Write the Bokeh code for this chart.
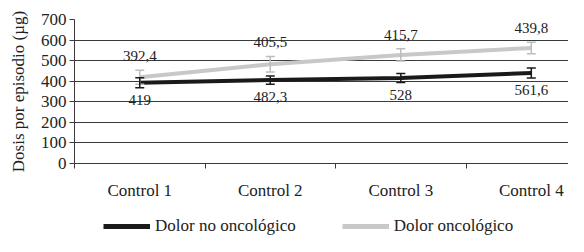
from bokeh.plotting import figure
from bokeh.layouts import column
from bokeh.models import (ColumnDataSource, FixedTicker, Whisker, TeeHead, Legend, LegendItem, Range1d)
from bokeh.core.properties import value
from bokeh.embed import file_html
from bokeh.resources import INLINE

categories = ["Control 1", "Control 2", "Control 3", "Control 4"]
no_onco = [392.4, 405.5, 415.7, 439.8]
onco = [419.0, 482.3, 528.0, 561.6]
no_onco_err = [24, 20, 22, 24]
onco_err = [34, 38, 30, 28]
y_ticks = [0, 100, 200, 300, 400, 500, 600, 700]
series_names = ["Dolor no oncológico", "Dolor oncológico"]

FONT = "Liberation Serif"
BLACK = "#1a1a1a"
GRAY = "#c8c8c8"
TXT = "#222222"
AX = "#3a3a3a"

def fmt(v):
    return ("%g" % v).replace(".", ",")

x = list(range(1, len(categories) + 1))

p = figure(width=568, height=212, output_backend="svg", toolbar_location=None,
           x_range=Range1d(0.5, 4.285), y_range=Range1d(0, 700),
           min_border_left=74, min_border_right=0, min_border_top=19, min_border_bottom=49)
p.outline_line_color = None

src_o = ColumnDataSource(dict(x=x, y=onco, lo=[a - b for a, b in zip(onco, onco_err)],
                              hi=[a + b for a, b in zip(onco, onco_err)],
                              lab=[fmt(v) for v in no_onco]))
src_n = ColumnDataSource(dict(x=x, y=no_onco, lo=[a - b for a, b in zip(no_onco, no_onco_err)],
                              hi=[a + b for a, b in zip(no_onco, no_onco_err)],
                              lab=[fmt(v) for v in onco]))

# gray series
p.line("x", "y", source=src_o, line_color=GRAY, line_width=4)
p.add_layout(Whisker(base="x", lower="lo", upper="hi", source=src_o, line_color="#bdbdbd", line_width=1.5,
                     upper_head=TeeHead(size=9, line_color="#bdbdbd", line_width=1.5),
                     lower_head=TeeHead(size=9, line_color="#bdbdbd", line_width=1.5), level="glyph"))
# black series
p.line("x", "y", source=src_n, line_color=BLACK, line_width=4)
p.add_layout(Whisker(base="x", lower="lo", upper="hi", source=src_n, line_color=BLACK, line_width=1.5,
                     upper_head=TeeHead(size=9, line_color=BLACK, line_width=1.5),
                     lower_head=TeeHead(size=9, line_color=BLACK, line_width=1.5), level="glyph"))

# data labels (as printed in the original)
p.text("x", "hi", text="lab", source=src_o, text_font=value(FONT), text_font_size="15px",
       text_color=TXT, text_align="center", text_baseline="middle", y_offset=-14)
p.text("x", "y", text="lab", source=src_n, text_font=value(FONT), text_font_size="15px",
       text_color=TXT, text_align="center", text_baseline="middle", y_offset=17)

# grid
p.xgrid.visible = False
p.ygrid.ticker = FixedTicker(ticks=y_ticks)
p.ygrid.grid_line_color = AX
p.ygrid.grid_line_width = 1

# y axis
ya = p.yaxis[0]
ya.ticker = FixedTicker(ticks=y_ticks)
ya.axis_label = "Dosis por episodio (µg)"
ya.axis_label_text_font = FONT
ya.axis_label_text_font_size = "17px"
ya.axis_label_text_font_style = "normal"
ya.axis_label_text_color = TXT
ya.axis_label_standoff = 10
ya.major_label_text_font = FONT
ya.major_label_text_font_size = "17px"
ya.major_label_text_color = TXT
ya.major_label_standoff = 3
ya.major_tick_in = 0
ya.major_tick_out = 5
ya.minor_tick_out = 0
ya.minor_tick_in = 0
ya.axis_line_color = AX
ya.major_tick_line_color = AX

# x axis
xa = p.xaxis[0]
xa.ticker = FixedTicker(ticks=x, minor_ticks=[0.5, 1.5, 2.5, 3.5])
xa.major_label_overrides = {i: c for i, c in zip(x, categories)}
xa.major_label_text_font = FONT
xa.major_label_text_font_size = "17px"
xa.major_label_text_color = TXT
xa.major_label_standoff = 12
xa.major_tick_in = 0
xa.major_tick_out = 0
xa.minor_tick_in = 0
xa.minor_tick_out = 5
xa.minor_tick_line_color = AX
xa.axis_line_color = AX

# legend strip
lg = figure(width=568, height=24, output_backend="svg", toolbar_location=None,
            x_range=Range1d(0, 1), y_range=Range1d(0, 1),
            x_axis_location=None, y_axis_location=None,
            min_border_left=0, min_border_right=0, min_border_top=0, min_border_bottom=0)
lg.outline_line_color = None
lg.xgrid.visible = False
lg.ygrid.visible = False
e = ColumnDataSource(dict(x=[5, 6], y=[5, 6]))
ln = lg.line("x", "y", source=e, line_color=BLACK, line_width=5)
lo = lg.line("x", "y", source=e, line_color=GRAY, line_width=5)
legend = Legend(items=[LegendItem(label=series_names[0], renderers=[ln]),
                       LegendItem(label=series_names[1], renderers=[lo])],
                orientation="horizontal", location=(29, 0),
                label_text_font=FONT, label_text_font_size="17px", label_text_color=TXT,
                glyph_width=47, glyph_height=16, label_height=16, label_standoff=5,
                spacing=46, padding=0, margin=0, border_line_color=None,
                background_fill_alpha=0)
lg.add_layout(legend, "center")

open("out.html", "w").write(file_html(column(p, lg, spacing=0), INLINE))
